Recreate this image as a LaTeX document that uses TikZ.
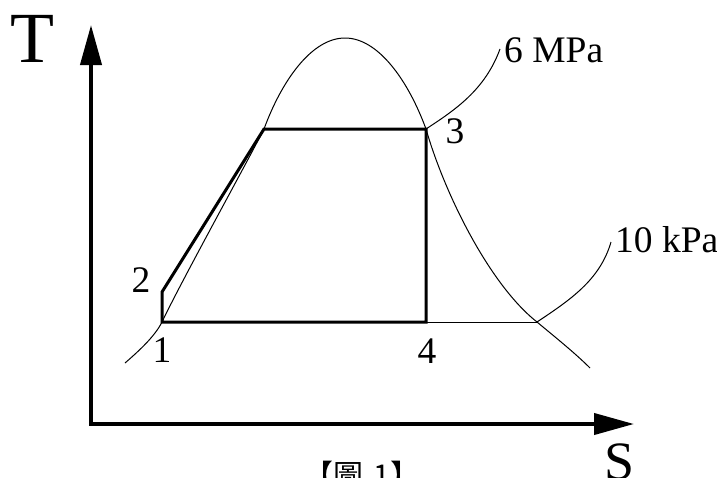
\documentclass[tikz,border=0pt]{standalone}
\usepackage{fontspec}
\setmainfont{Liberation Serif}
\newfontfamily\cjkfont{Noto Sans CJK TC}
\usetikzlibrary{arrows.meta}
\begin{document}
\begin{tikzpicture}[x=1pt,y=-1pt,
  curveline/.style={line width=1pt},
  cycleline/.style={line width=3pt, line join=miter},
  axisline/.style={line width=4pt, line join=miter,
    {Triangle[length=40pt,width=21pt]}-{Triangle[length=40pt,width=21pt]}},
  lbl/.style={inner sep=0pt, font=\fontsize{37.5}{40}\selectfont}]
\useasboundingbox (0,0) rectangle (717,477);
% axes
\coordinate (O) at (91,424);
\coordinate (ytip) at (91,25);
\coordinate (xtip) at (634,424);
\draw[axisline] (ytip) -- (O) -- (xtip);
\node[inner sep=0pt, anchor=base, font=\fontsize{72}{76}\selectfont] (T) at (32,62) {T};
\node[inner sep=0pt, anchor=base, font=\fontsize{54}{58}\selectfont] (S) at (620,479) {S};
% cycle points
\coordinate (p1) at (162,322);
\coordinate (p2) at (162,292);
\coordinate (c) at (264,129);
\coordinate (p3) at (426,129);
\coordinate (p4) at (426,322);
\coordinate (x) at (537,322);
\coordinate (top) at (345,38);
\coordinate (d0) at (125,363);
\coordinate (d9) at (590,368);
\coordinate (e6) at (500,49);
\coordinate (e10) at (611,242);
% saturation dome
\draw[curveline] (d0) .. controls (140,350) and (155,336) .. (p1)
  .. controls (182,280) and (243,170) .. (c)
  .. controls (282,80) and (312,38) .. (top)
  .. controls (378,38) and (408,80) .. (p3)
  .. controls (445,195) and (490,285) .. (x)
  .. controls (555,337) and (575,353) .. (d9);
\draw[curveline] (p4) -- (x);
\draw[cycleline] (p1) -- (p2) -- (c) -- (p3) -- (p4) -- cycle;
% isobars
\draw[curveline] (p3) .. controls (455,110) and (485,90) .. (e6);
\draw[curveline] (x) .. controls (570,300) and (600,280) .. (e10);
% labels
\node[lbl, anchor=base] (l1) at (162,362) {1};
\node[lbl, anchor=base] (l2) at (141,292) {2};
\node[lbl, anchor=base] (l3) at (455,143) {3};
\node[lbl, anchor=base] (l4) at (427,363) {4};
\node[lbl, anchor=base west] (mpa) at (504,62) {6 MPa};
\node[lbl, anchor=base west] (kpa) at (615,252) {10 kPa};
\node[inner sep=0pt, anchor=base, font=\cjkfont\fontsize{30}{32}\selectfont] (cap) at (362,486) {【圖\hspace{10pt}1】};
\end{tikzpicture}
\end{document}
